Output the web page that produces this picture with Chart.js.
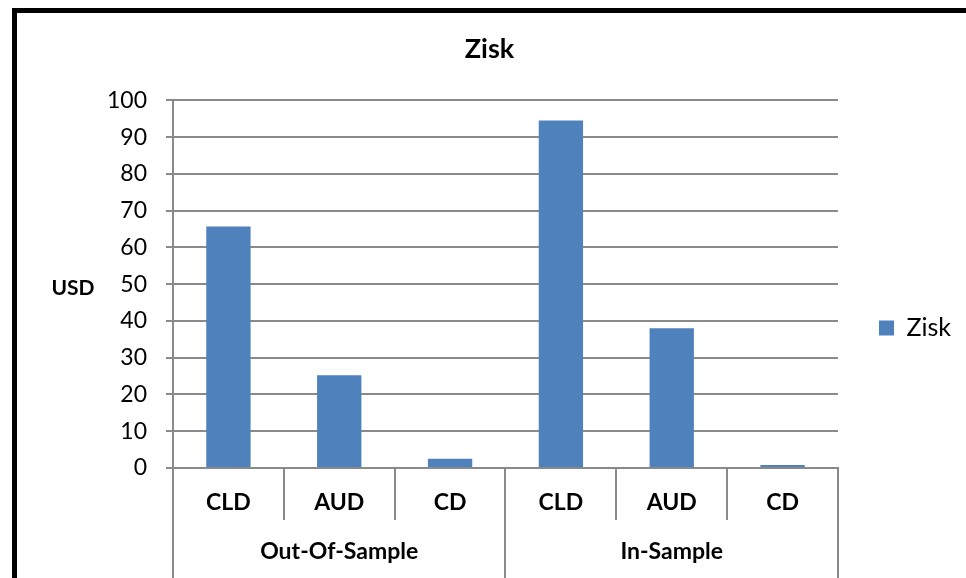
<!DOCTYPE html>
<html>
<head>
<meta charset="utf-8">
<script src="https://cdn.jsdelivr.net/npm/chart.js@4"></script>
<style>
  html, body { margin: 0; padding: 0; overflow: hidden; background: #fff; }
  #wrap { position: absolute; left: 0; top: 0; width: 966px; height: 636px; }
  #frame { position: absolute; left: 12px; top: 8px; width: 1100px; height: 800px; border: 5px solid #000; pointer-events: none; }
</style>
</head>
<body>
<div id="wrap"><canvas id="c"></canvas></div>
<div id="frame"></div>
<script>
const categories = ['CLD', 'AUD', 'CD', 'CLD', 'AUD', 'CD'];
const groups = ['Out-Of-Sample', 'In-Sample'];
const zisk = [65.7, 25.2, 2.5, 94.5, 38, 0.8];
const yTicks = [0, 10, 20, 30, 40, 50, 60, 70, 80, 90, 100];

const gridColor = '#8a8a8a';
const font = 'Lato';

// horizontal "USD" label left of the value axis
const usdLabel = {
  id: 'usdLabel',
  afterDraw(chart) {
    const ctx = chart.ctx;
    const y = chart.scales.y;
    ctx.save();
    ctx.font = 'bold 21px ' + font;
    ctx.fillStyle = '#000';
    ctx.textAlign = 'center';
    ctx.textBaseline = 'middle';
    ctx.fillText('USD', 73, (y.top + y.bottom) / 2 + 4);
    ctx.restore();
  }
};

const ctx = document.getElementById('c').getContext('2d');

new Chart(ctx, {
  type: 'bar',
  data: {
    labels: categories,
    datasets: [{
      label: 'Zisk',
      data: zisk,
      backgroundColor: '#4F81BD',
      borderWidth: 0,
      barPercentage: 0.4,
      categoryPercentage: 1
    }]
  },
  options: {
    responsive: true,
    maintainAspectRatio: false,
    animation: false,
    layout: { padding: { top: 20, left: 18, right: 5, bottom: 0 } },
    plugins: {
      title: {
        display: true,
        text: 'Zisk',
        color: '#000',
        font: { family: font, size: 27, weight: 'bold' },
        padding: { top: 13, bottom: 35 }
      },
      legend: {
        position: 'right',
        labels: {
          color: '#000',
          font: { family: font, size: 25 },
          boxWidth: 15,
          boxHeight: 15,
          padding: 41
        }
      },
      tooltip: { enabled: false }
    },
    scales: {
      x: {
        position: 'bottom',
        offset: true,
        grid: { offset: true, drawOnChartArea: false, color: gridColor, lineWidth: 2, tickLength: 52 },
        border: { color: gridColor, width: 2 },
        ticks: { color: '#000', font: { family: font, size: 23, weight: 'bold' }, padding: -31, maxRotation: 0 },
        afterFit: (s) => { s.height = 52; }
      },
      x2: {
        type: 'category',
        position: 'bottom',
        labels: groups,
        offset: true,
        grid: { offset: true, drawOnChartArea: false, color: gridColor, lineWidth: 2, tickLength: 140 },
        border: { display: false },
        ticks: { color: '#000', font: { family: font, size: 23, weight: 'bold' }, padding: -122, maxRotation: 0 },
        afterFit: (s) => { s.height = 116; }
      },
      y: {
        min: 0,
        max: 100,
        afterBuildTicks: (s) => { s.ticks = yTicks.map(v => ({ value: v })); },
        grid: { color: gridColor, lineWidth: 2, tickLength: 7 },
        border: { color: gridColor, width: 2 },
        ticks: { color: '#000', font: { family: font, size: 23 }, padding: 19 },
        afterFit: (s) => { s.width = 155; }
      }
    }
  },
  plugins: [usdLabel]
});
</script>
</body>
</html>
